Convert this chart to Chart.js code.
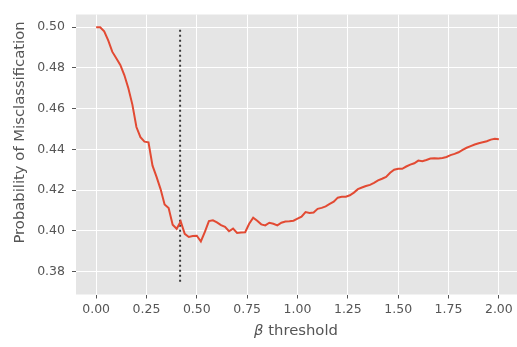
<!DOCTYPE html>
<html><head><meta charset="utf-8">
<script src="https://cdn.jsdelivr.net/npm/chart.js@4"></script>
<style>html,body{margin:0;padding:0;background:#fff;overflow:hidden;width:517px;height:347px}</style>
</head><body>
<canvas id="c" width="522" height="347" style="display:block;width:522px;height:347px"></canvas>
<script>
const betaThreshold = [0.00,0.02,0.04,0.06,0.08,0.10,0.12,0.14,0.16,0.18,0.20,0.22,0.24,0.26,0.28,0.30,0.32,0.34,0.36,0.38,0.40,0.42,0.44,0.46,0.48,0.50,0.52,0.54,0.56,0.58,0.60,0.62,0.64,0.66,0.68,0.70,0.72,0.74,0.76,0.78,0.80,0.82,0.84,0.86,0.88,0.90,0.92,0.94,0.96,0.98,1.00,1.02,1.04,1.06,1.08,1.10,1.12,1.14,1.16,1.18,1.20,1.22,1.24,1.26,1.28,1.30,1.32,1.34,1.36,1.38,1.40,1.42,1.44,1.46,1.48,1.50,1.52,1.54,1.56,1.58,1.60,1.62,1.64,1.66,1.68,1.70,1.72,1.74,1.76,1.78,1.80,1.82,1.84,1.86,1.88,1.90,1.92,1.94,1.96,1.98,2.00];
const misclassProb = [0.5000,0.5000,0.4980,0.4935,0.4880,0.4848,0.4815,0.4765,0.4700,0.4620,0.4510,0.4460,0.4438,0.4435,0.4320,0.4265,0.4205,0.4130,0.4112,0.4030,0.4010,0.4046,0.3985,0.3970,0.3975,0.3976,0.3948,0.3995,0.4048,0.4052,0.4042,0.4028,0.4020,0.3998,0.4011,0.3990,0.3992,0.3993,0.4035,0.4065,0.4050,0.4032,0.4027,0.4040,0.4035,0.4027,0.4040,0.4046,0.4047,0.4050,0.4060,0.4070,0.4092,0.4088,0.4090,0.4108,0.4113,0.4120,0.4132,0.4143,0.4163,0.4167,0.4168,0.4175,0.4188,0.4205,0.4213,0.4220,0.4226,0.4236,0.4248,0.4256,0.4265,0.4285,0.4300,0.4305,0.4305,0.4316,0.4325,0.4332,0.4345,0.4342,0.4348,0.4355,0.4357,0.4355,0.4358,0.4363,0.4372,0.4378,0.4386,0.4398,0.4408,0.4416,0.4424,0.4430,0.4435,0.4440,0.4448,0.4452,0.4450];
const xTickValues = [0.00,0.25,0.50,0.75,1.00,1.25,1.50,1.75,2.00];
const yTickValues = [0.38,0.40,0.42,0.44,0.46,0.48,0.50];
const cutoffX = [0.417,0.417];
const cutoffY = [0.375,0.500];
const xLabelSymbol = 'β';
const xLabelText = ' threshold';
const yLabel = 'Probability of Misclassification';

const FAMILY = '"DejaVu Sans", sans-serif';

const bgPlugin = {
  id: 'bg',
  beforeDraw(chart) {
    const {ctx, chartArea: a} = chart;
    ctx.save();
    ctx.fillStyle = '#E5E5E5';
    ctx.fillRect(a.left, a.top, a.right - a.left, a.bottom - a.top);
    ctx.restore();
  }
};

const axisTitlePlugin = {
  id: 'axisTitles',
  afterDraw(chart) {
    const ctx = chart.ctx;
    ctx.save();
    ctx.fillStyle = '#555555';
    ctx.textBaseline = 'middle';
    // x title with italic beta
    const fi = 'italic 14.8px ' + FAMILY;
    const fn = '14.8px ' + FAMILY;
    ctx.font = fi; const w1 = ctx.measureText(xLabelSymbol).width;
    ctx.font = fn; const w2 = ctx.measureText(xLabelText).width;
    const cx = 296, cy = 331;
    let x0 = cx - (w1 + w2) / 2;
    ctx.textAlign = 'left';
    ctx.font = fi; ctx.fillText(xLabelSymbol, x0, cy);
    ctx.font = fn; ctx.fillText(xLabelText, x0 + w1, cy);
    // y title
    ctx.translate(20, 132.5);
    ctx.rotate(-Math.PI / 2);
    ctx.textAlign = 'center';
    ctx.font = fn;
    ctx.fillText(yLabel, 0, 0);
    ctx.restore();
  }
};

const font = {family: FAMILY, size: 12.5};
new Chart(document.getElementById('c'), {
  type: 'line',
  data: {
    datasets: [
      {
        data: betaThreshold.map((x, i) => ({x, y: misclassProb[i]})),
        borderColor: '#E24A33', borderWidth: 2, pointRadius: 0, tension: 0, fill: false
      },
      {
        data: cutoffX.map((x, i) => ({x, y: cutoffY[i]})),
        borderColor: '#3a3a3a', borderWidth: 2, borderDash: [2, 3], pointRadius: 0, fill: false
      }
    ]
  },
  options: {
    responsive: false, animation: false, devicePixelRatio: 1,
    layout: {padding: {left: 0, right: 3, top: 6, bottom: 0}},
    plugins: {legend: {display: false}, tooltip: {enabled: false}},
    scales: {
      x: {
        type: 'linear', min: -0.1, max: 2.1,
        afterFit(s) { s.height = 52.5; },
        afterBuildTicks(s) { s.ticks = xTickValues.map(v => ({value: v})); },
        grid: {color: '#FFFFFF', lineWidth: 1, tickColor: '#555555', tickLength: 4, drawTicks: true},
        border: {display: false},
        ticks: {color: '#555555', font, padding: 4, maxRotation: 0, callback: v => v.toFixed(2)},
        title: {display: false}
      },
      y: {
        type: 'linear', min: 0.36875, max: 0.50625,
        afterFit(s) { s.width = 76; },
        afterBuildTicks(s) { s.ticks = yTickValues.map(v => ({value: v})); },
        grid: {color: '#FFFFFF', lineWidth: 1, tickColor: '#555555', tickLength: 4, drawTicks: true},
        border: {display: false},
        ticks: {color: '#555555', font, padding: 7, callback: v => v.toFixed(2)},
        title: {display: false}
      }
    }
  },
  plugins: [bgPlugin, axisTitlePlugin]
});
</script>
</body></html>
